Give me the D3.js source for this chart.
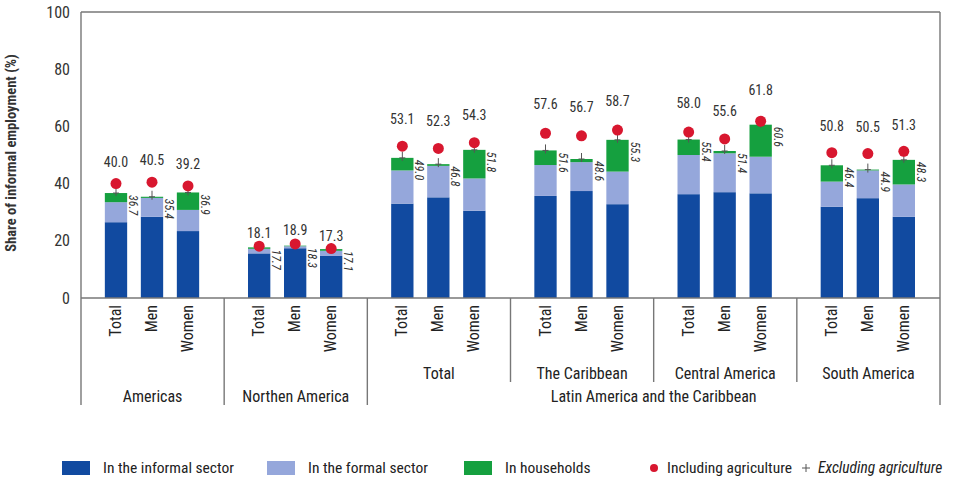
<!DOCTYPE html>
<html><head><meta charset="utf-8">
<script src="https://cdn.jsdelivr.net/npm/d3@7"></script>
<style>
body{margin:0;background:#fff;}
text{font-family:"Liberation Sans Narrow","Roboto Condensed","DejaVu Sans Condensed",sans-serif;}
</style></head><body>
<svg id="c" width="955" height="480"></svg>
<script>
const groups = ["Americas","Northen America","Total","The Caribbean","Central America","South America"];
const sexes = ["Total","Men","Women"];
const yTicks = [0,20,40,60,80,100];
const informalSector = [26.5,28.4,23.4, 15.6,17.4,14.7, 33.0,35.2,30.5, 35.7,37.4,32.8, 36.3,37.0,36.6, 31.9,34.9,28.4];
const formalSector   = [7.0,6.6,7.4,    1.6,0.7,1.8,   11.6,11.0,11.3, 10.8,10.1,11.4, 13.7,13.6,12.8, 8.8,9.7,11.3];
const households     = [3.2,0.4,6.1,    0.5,0.2,0.6,   4.4,0.6,10.0,   5.1,1.1,11.1,   5.4,0.8,11.2,   5.7,0.3,8.6];
const inclAgri = [40.0,40.5,39.2, 18.1,18.9,17.3, 53.1,52.3,54.3, 57.6,56.7,58.7, 58.0,55.6,61.8, 50.8,50.5,51.3];
const exclAgri = [36.7,35.4,36.9, 17.7,18.3,17.1, 49.0,46.8,51.8, 51.6,48.6,55.3, 55.4,51.4,60.6, 46.4,44.9,48.3];
const superGroups = [{name:"Americas",from:0,to:0},{name:"Northen America",from:1,to:1},{name:"Latin America and the Caribbean",from:2,to:5}];
const seriesNames = ["In the informal sector","In the formal sector","In households"];
const colors = ["#114aa0","#95a7db","#15a03f"];
const dotColor = "#d8172f";

const svg = d3.select("#c");
const L=81,R=940,T=12,B=298,BOT=405,SUB=382;
const y = d3.scaleLinear().domain([0,100]).range([B,T]);
const xg = d3.scaleBand().domain(d3.range(groups.length)).range([L,R]);
const xs = d3.scaleBand().domain(sexes).range([17,125]).paddingInner(0.38).paddingOuter(0.19);

const rows = [];
groups.forEach((g,gi)=>sexes.forEach((s,si)=>{
  const i=gi*3+si;
  rows.push({g:gi,s,vals:[informalSector[i],formalSector[i],households[i]],incl:inclAgri[i],excl:exclAgri[i]});
}));
const cx = d => xg(d.g)+xs(d.s)+xs.bandwidth()/2;

// bars
const stack = d3.stack().keys([0,1,2]).value((d,k)=>d.vals[k]);
const layers = stack(rows);
layers.forEach((layer,k)=>{
  svg.append("g").selectAll("rect").data(layer).join("rect")
    .attr("x",d=>xg(d.data.g)+xs(d.data.s)).attr("width",xs.bandwidth())
    .attr("y",d=>y(d[1])).attr("height",d=>y(d[0])-y(d[1]))
    .attr("fill",colors[k]);
});

// frame
const fr = svg.append("g").attr("stroke","#777").attr("stroke-width",1.4);
fr.append("line").attr("x1",L).attr("x2",R).attr("y1",T).attr("y2",T);
fr.append("line").attr("x1",L).attr("x2",R).attr("y1",B).attr("y2",B);
fr.append("line").attr("x1",L).attr("x2",L).attr("y1",T).attr("y2",BOT);
fr.append("line").attr("x1",R).attr("x2",R).attr("y1",T).attr("y2",BOT);
d3.range(1,groups.length).forEach(i=>{
  const deep = superGroups.some(sg=>sg.from===i);
  fr.append("line").attr("x1",xg(i)).attr("x2",xg(i)).attr("y1",B).attr("y2",deep?BOT:SUB);
});

// y axis labels
svg.append("g").selectAll("text").data(yTicks).join("text")
  .attr("x",70).attr("y",d=>y(d)).attr("dy","0.35em").attr("text-anchor","end")
  .attr("font-size",16).attr("fill","#333").text(d=>d);
svg.append("text").attr("transform",`translate(16,${(T+B)/2-2}) rotate(-90)`)
  .attr("text-anchor","middle").attr("font-size",14.5).attr("font-weight","bold").attr("fill","#333")
  .text("Share of informal employment (%)");

// excl agriculture markers
const pm = svg.append("g").attr("stroke","#555").attr("stroke-width",1);
rows.forEach(d=>{
  pm.append("line").attr("x1",cx(d)-3).attr("x2",cx(d)+3).attr("y1",y(d.excl)).attr("y2",y(d.excl));
  pm.append("line").attr("x1",cx(d)).attr("x2",cx(d)).attr("y1",y(d.excl)-6).attr("y2",y(d.excl)+3);
});
// incl dots
svg.append("g").selectAll("circle").data(rows).join("circle")
  .attr("cx",cx).attr("cy",d=>y(d.incl)).attr("r",5.5).attr("fill",dotColor);
// incl labels
svg.append("g").selectAll("text").data(rows).join("text")
  .attr("x",cx).attr("y",d=>y(d.incl)-(6+0.4*d.incl)).attr("dy","0.35em").attr("text-anchor","middle")
  .attr("font-size",14).attr("fill","#333").text(d=>d.incl.toFixed(1));
// excl labels
svg.append("g").selectAll("text").data(rows).join("text")
  .attr("transform",d=>`translate(${xg(d.g)+xs(d.s)+xs.bandwidth()+2},${y(d.excl)+2}) rotate(90)`)
  .attr("font-size",12).attr("font-style","italic").attr("fill","#333").text(d=>d.excl.toFixed(1));

// category labels
svg.append("g").selectAll("text").data(rows).join("text")
  .attr("transform",d=>`translate(${cx(d)+5},${B+7}) rotate(-90)`)
  .attr("text-anchor","end").attr("font-size",16).attr("fill","#222").text(d=>d.s);
// sub group labels
groups.forEach((g,gi)=>{
  const inSuper = superGroups.find(sg=>sg.from===gi&&sg.to===gi);
  svg.append("text").attr("x",xg(gi)+xg.bandwidth()/2).attr("y",inSuper?396:373).attr("dy","0.35em")
    .attr("text-anchor","middle").attr("font-size",16).attr("fill","#222").text(g);
});
superGroups.filter(sg=>sg.to>sg.from).forEach(sg=>{
  svg.append("text").attr("x",(xg(sg.from)+xg(sg.to)+xg.bandwidth())/2).attr("y",396).attr("dy","0.35em")
    .attr("text-anchor","middle").attr("font-size",16).attr("fill","#222").text(sg.name);
});

// legend
const lg = svg.append("g").attr("font-size",15.5).attr("fill","#222");
const lx=[62,267,464];
seriesNames.forEach((n,k)=>{
  lg.append("rect").attr("x",lx[k]).attr("y",461).attr("width",28).attr("height",14).attr("fill",colors[k]);
  lg.append("text").attr("x",lx[k]+41).attr("y",468).attr("dy","0.35em").text(n);
});
lg.append("circle").attr("cx",654).attr("cy",468).attr("r",4).attr("fill",dotColor);
lg.append("text").attr("x",667).attr("y",468).attr("dy","0.35em").text("Including agriculture");
lg.append("path").attr("d","M802,468H810M806,464V472").attr("stroke","#555").attr("stroke-width",1);
lg.append("text").attr("x",818).attr("y",468).attr("dy","0.35em").attr("font-style","italic").text("Excluding agriculture");
</script></body></html>
